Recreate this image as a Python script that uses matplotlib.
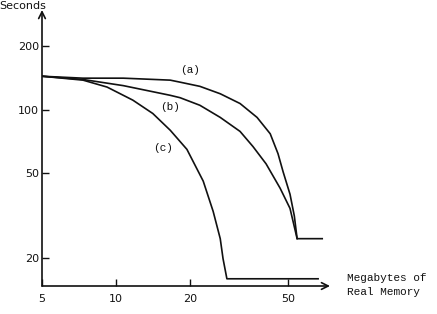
import matplotlib
matplotlib.use("Agg")
import matplotlib.pyplot as plt

# values (log-log axes)
mem_a = [5, 7.34, 10.7, 16.6, 18.2, 21.9, 26.5, 31.9, 37.4, 42.3, 45.5,
         47.7, 50.9, 53.0, 54.4, 68.8]
sec_a = [144, 141, 141, 138, 135, 129, 119, 107, 92, 77, 62,
         51, 39.9, 31.5, 24.6, 24.6]

mem_b = [5, 7.34, 10.7, 16.6, 18.2, 21.9, 26.5, 31.9, 36.0, 40.7,
         46.4, 50.9, 54.4]
sec_b = [144, 139, 130, 117, 114, 105, 92, 79, 67, 55.5,
         42.6, 34.2, 24.6]

mem_c = [5, 7.34, 9.19, 11.7, 14.1, 16.6, 19.4, 22.6, 24.8,
         26.5, 27.2, 28.2, 66.2]
sec_c = [144, 138, 128, 111, 96, 80, 65, 46, 33.1,
         24.6, 19.8, 15.9, 15.9]

x_ticks = [5, 10, 20, 50]
y_ticks = [20, 50, 100, 200]

curve_labels = ["(a)", "(b)", "(c)"]
label_pos = [(20, 154), (16.6, 103.5), (15.5, 66)]

fig = plt.figure(figsize=(4.37, 3.14), dpi=100)
ax = fig.add_axes([42 / 437, 28 / 314, 288 / 437, 276 / 314])
ax.set_xscale("log")
ax.set_yscale("log")
ax.set_xlim(5, 74)
ax.set_ylim(14.7, 296)

ink = "#111111"
for xs, ys in [(mem_a, sec_a), (mem_b, sec_b), (mem_c, sec_c)]:
    ax.plot(xs, ys, color=ink, lw=1.2, solid_joinstyle="round")

for lab, (lx, ly) in zip(curve_labels, label_pos):
    ax.text(lx, ly, lab, family="Liberation Mono", fontsize=8,
            ha="center", va="center", color=ink)

for s in ax.spines.values():
    s.set_visible(False)

# arrowed axes
ax.annotate("", xy=(1, 0), xytext=(0, 0), xycoords="axes fraction",
            arrowprops=dict(arrowstyle="->", lw=1.2, color=ink,
                            shrinkA=0, shrinkB=0, mutation_scale=12))
ax.annotate("", xy=(0, 1), xytext=(0, 0), xycoords="axes fraction",
            arrowprops=dict(arrowstyle="->", lw=1.2, color=ink,
                            shrinkA=0, shrinkB=0, mutation_scale=12))

ax.set_xticks(x_ticks)
ax.set_xticklabels([str(v) for v in x_ticks])
ax.set_yticks(y_ticks)
ax.set_yticklabels([str(v) for v in y_ticks])
ax.minorticks_off()
ax.tick_params(axis="both", direction="in", length=5, width=1, colors=ink,
               labelsize=8)
ax.tick_params(axis="x", pad=6)
ax.tick_params(axis="y", pad=2)

fig.text(23 / 437, 1 - 9 / 314, "Seconds", ha="center", va="baseline",
         fontsize=8, color=ink)
fig.text(347 / 437, 1 - 285 / 314, "Megabytes of\nReal Memory",
         family="Liberation Mono", fontsize=8, ha="left", va="center",
         color=ink, linespacing=1.4)

fig.savefig("out.png", dpi=100)
